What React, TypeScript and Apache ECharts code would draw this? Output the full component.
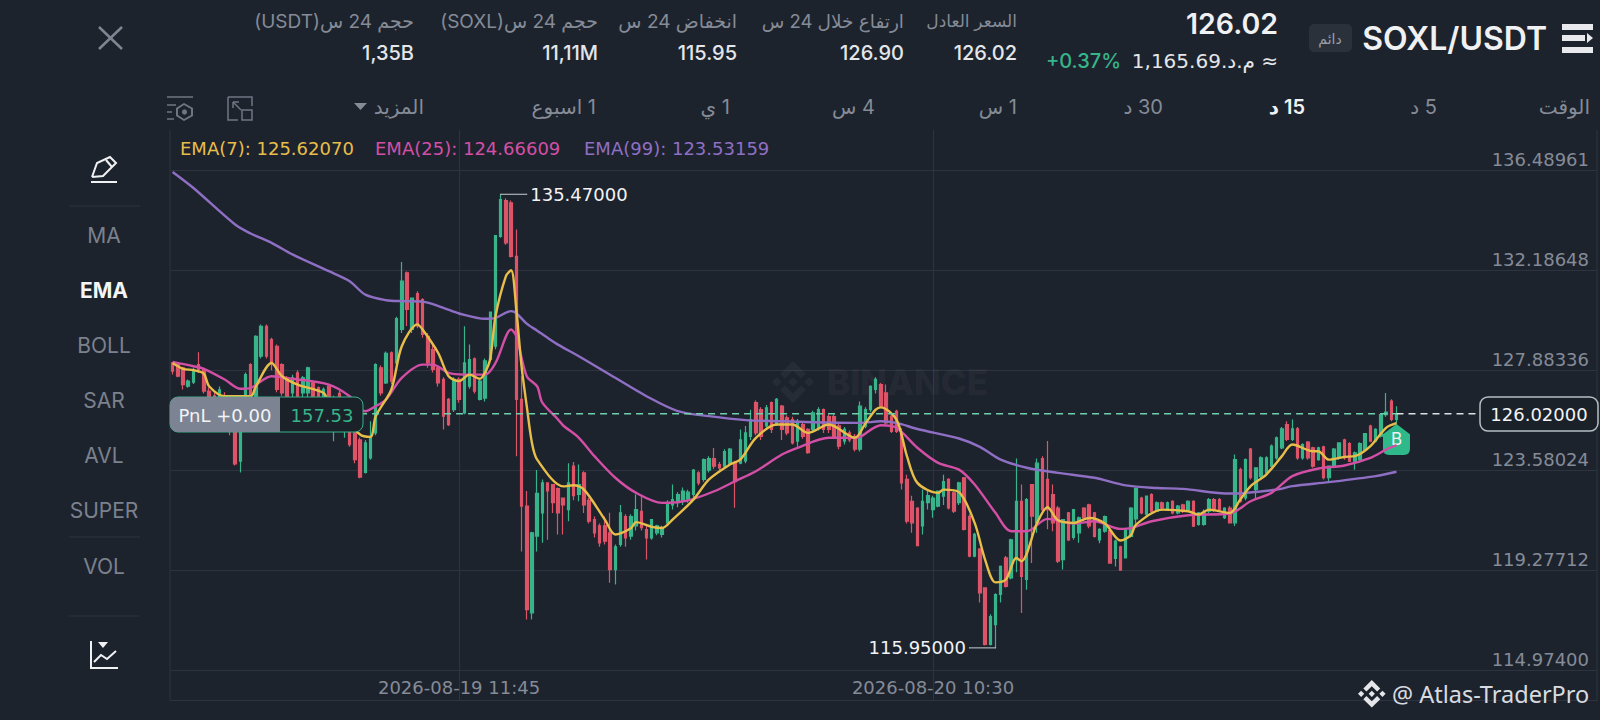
import React, { useEffect, useRef } from "react";
import * as echarts from "echarts";

// 15-minute candles, each row is [open, close, low, high]
const candlesA = [
[128.21,127.86,127.71,128.25],[128.14,127.64,127.6,128.2],[128.0,127.28,127.07,128.05],[127.21,127.43,127.14,127.5],[127.38,127.93,127.3,128.0],[128.14,127.93,127.78,128.67],[127.93,127.0,126.9,128.0],[127.0,126.55,126.4,127.15],[126.8,126.3,126.1,126.95],[126.2,127.05,126.0,127.2],
[126.8,126.0,125.8,126.95],[126.1,125.4,125.1,126.3],[125.7,123.87,123.8,125.9],[123.98,125.9,123.5,126.2],[125.9,127.71,125.7,127.8],[128.14,126.78,126.6,128.2],[126.78,129.36,126.5,129.4],[128.5,129.79,128.4,129.87],[129.79,128.5,128.4,129.87],[129.22,128.21,127.9,129.3],
[128.93,127.07,126.95,129.0],[128.14,126.92,126.8,128.2],[127.57,126.78,126.6,127.65],[126.92,127.57,126.7,127.7],[127.78,126.78,126.6,127.9],[126.92,127.57,126.7,127.65],[126.92,128.0,126.7,128.05],[127.35,126.78,126.6,127.45],[127.14,126.78,126.5,127.2],[126.64,127.07,126.4,127.15],
[127.21,126.35,126.2,127.3],[125.9,126.6,124.84,126.8],[126.9,126.0,125.7,127.0],[125.6,126.3,124.99,126.5],[125.8,124.7,124.6,126.2],[125.2,124.05,123.9,125.3],[124.9,123.3,123.25,125.0],[123.5,124.77,123.45,124.9],[124.13,124.99,124.05,125.7],[125.2,128.14,125.1,128.2],
];
const candlesB = [
[128.0,126.92,126.8,128.1],[127.35,128.62,127.3,128.7],[128.65,127.43,127.3,128.7],[128.21,130.12,128.1,130.2],[129.65,131.73,129.5,132.55],[132.09,130.51,129.8,132.15],[129.65,131.0,129.5,131.0],[131.2,129.8,129.7,131.3],[130.94,129.44,129.3,131.0],[129.36,128.21,128.0,129.5],
[128.79,127.93,127.8,129.0],[128.0,127.35,127.2,128.1],[127.5,125.92,125.35,127.6],[126.64,125.56,125.5,126.7],[126.2,127.5,126.1,127.6],[127.5,126.64,126.5,127.6],[126.06,128.21,126.0,129.79],[127.21,128.36,127.1,129.0],[128.39,127.0,126.9,128.45],[126.64,127.43,126.6,127.5],
[126.7,128.3,126.55,128.4],[128.36,130.4,128.3,130.4],[128.93,133.69,128.8,133.7],[133.66,135.24,133.6,135.47],[135.2,133.38,133.3,135.3],[135.1,132.8,132.75,135.2],[132.8,126.64,124.2,133.95],[126.64,122.05,120.1,127.64],[122.05,117.6,117.17,122.7],[117.46,120.9,117.17,120.95],
[120.76,122.6,120.1,123.6],[121.76,123.05,120.47,123.2],[123.05,122.7,120.6,123.05],[122.98,122.2,121.75,123.0],[122.8,121.76,120.83,122.85],[122.4,122.1,120.83,122.4],[121.9,123.05,121.4,123.9],[123.77,122.5,122.3,123.95],[122.55,122.98,122.26,123.84],[123.48,122.1,121.75,123.55],
];
const candlesC = [
[122.3,121.4,121.3,122.4],[121.47,120.9,120.7,121.6],[121.2,120.47,120.3,121.3],[121.2,120.54,120.4,121.6],[120.9,119.32,118.75,121.76],[119.32,120.3,118.68,120.4],[120.4,121.76,120.3,122.1],[121.6,120.68,120.3,121.7],[120.76,121.6,120.6,121.7],[121.2,121.9,121.0,122.55],
[121.83,121.12,121.0,122.5],[121.04,120.68,119.75,121.2],[120.68,121.47,120.6,121.5],[120.9,121.2,120.8,121.25],[120.83,121.12,120.7,121.2],[121.33,122.2,121.2,122.3],[122.1,122.33,121.9,122.98],[122.2,122.55,122.0,122.65],[122.3,122.7,122.1,122.85],[122.35,122.65,122.2,122.75],
[122.55,123.6,122.35,123.65],[123.48,123.05,122.95,123.55],[123.2,124.05,123.1,124.1],[123.6,124.1,123.5,124.2],[124.1,123.77,123.65,124.55],[123.84,123.7,123.6,123.95],[123.77,124.4,123.7,124.5],[123.9,124.5,123.8,124.55],[123.9,123.1,121.98,124.0],[123.9,124.9,123.85,125.35],
[124.0,125.2,123.9,125.5],[125.05,125.77,124.9,126.2],[126.5,125.2,125.1,126.6],[126.2,125.05,124.9,126.3],[125.5,126.28,125.4,126.4],[126.5,125.35,125.2,126.55],[125.6,126.64,125.5,126.7],[126.35,125.35,124.9,126.4],[125.85,125.2,125.1,125.95],[125.77,124.77,124.7,125.9],
];
const candlesD = [
[124.85,125.7,124.6,125.8],[125.56,125.05,124.95,125.65],[125.35,124.35,124.3,125.4],[125.35,126.06,125.2,126.15],[125.4,126.2,125.3,126.3],[126.2,125.35,125.2,126.25],[125.9,125.35,125.2,126.0],[125.9,125.05,124.95,126.0],[125.5,124.63,124.5,125.6],[124.85,125.35,124.7,125.45],
[125.2,124.9,124.8,125.3],[125.05,124.5,124.4,125.15],[124.5,126.35,124.4,126.55],[125.49,126.2,125.4,126.3],[126.2,127.2,126.1,127.25],[127.07,127.5,126.9,127.6],[127.28,126.35,126.3,127.35],[126.92,125.63,125.55,127.28],[125.92,125.27,125.2,126.0],[126.13,125.27,125.2,126.2],
[125.2,123.05,122.76,125.4],[123.2,121.4,121.3,123.4],[122.26,121.33,120.9,122.5],[121.97,120.35,120.35,122.0],[121.2,122.26,120.83,122.76],[122.2,122.5,121.9,122.7],[121.9,122.4,121.55,122.5],[122.05,122.7,122.0,122.7],[122.48,123.1,122.1,123.4],[123.2,121.97,121.9,123.25],
[122.62,121.83,121.75,122.7],[122.2,123.05,122.1,123.1],[123.27,121.05,121.0,123.3],[121.6,119.9,119.85,121.7],[119.9,120.83,119.85,120.9],[120.2,118.32,117.9,120.25],[118.53,116.1,116.05,118.55],[116.1,117.3,116.05,117.4],[116.95,118.24,115.95,118.3],[118.25,119.46,117.9,119.5],
];
const candlesE = [
[119.82,118.6,118.55,119.9],[118.96,120.6,118.9,120.65],[119.75,122.26,119.2,124.1],[122.26,119.03,117.45,122.98],[118.9,122.33,118.45,122.4],[122.98,121.62,119.6,123.0],[121.33,123.9,120.9,124.1],[124.1,121.9,121.8,124.2],[123.2,121.9,121.05,124.85],[122.55,121.33,120.97,122.98],
[121.97,119.68,119.6,122.05],[119.75,121.47,119.32,121.5],[121.76,120.6,120.55,121.8],[120.7,121.9,120.6,121.9],[120.9,121.55,120.47,121.6],[121.97,121.55,121.4,122.0],[122.1,121.2,121.1,122.15],[121.76,120.75,120.7,121.8],[120.6,121.05,120.45,121.1],[120.97,121.6,120.9,121.65],
[121.0,119.6,119.6,121.05],[119.8,120.55,119.45,120.6],[120.3,119.3,119.3,120.35],[119.82,121.05,119.8,121.1],[120.75,121.97,120.7,122.0],[121.5,122.8,121.3,122.85],[122.4,121.76,121.7,122.45],[121.7,122.48,121.6,122.5],[122.55,121.83,121.75,122.6],[121.83,122.19,121.8,122.25],
[122.19,121.97,121.85,122.25],[121.9,122.19,121.85,122.25],[122.26,121.76,121.7,122.3],[121.76,122.05,121.7,122.1],[122.1,121.83,121.75,122.15],[121.9,122.26,121.8,122.3],[122.26,121.19,121.15,122.3],[121.26,121.76,121.2,121.8],[121.26,121.76,121.2,121.9],[121.83,122.33,121.75,122.4],
];
const candlesF = [
[122.33,121.9,121.8,122.4],[122.33,121.9,121.85,122.4],[121.55,121.97,121.5,122.0],[121.97,121.33,121.3,122.05],[121.33,124.05,121.19,124.27],[123.62,122.26,122.2,123.7],[122.4,124.05,122.3,124.1],[124.5,123.27,123.2,124.55],[122.76,123.7,122.33,123.7],[123.33,124.13,123.25,124.2],
[123.48,124.13,123.4,124.2],[123.77,124.63,123.7,124.7],[124.13,124.99,124.05,125.05],[124.56,125.38,124.5,125.45],[125.56,124.92,124.85,125.7],[124.92,125.38,124.85,125.78],[125.38,124.13,124.05,125.45],[124.13,124.7,124.05,124.75],[124.8,124.13,124.05,124.85],[124.56,123.77,123.7,124.6],
[124.05,124.56,124.0,124.6],[124.6,123.27,123.2,124.65],[123.27,123.77,123.1,123.8],[123.77,124.5,123.7,124.55],[124.13,124.77,124.05,124.8],[124.9,124.13,124.05,124.95],[124.74,123.98,123.95,124.8],[123.98,124.34,123.62,124.4],[124.05,124.74,124.0,124.8],[124.48,125.17,124.4,125.2],
[125.49,124.85,124.8,125.55],[124.85,125.35,124.8,125.4],[125.06,125.99,125.0,126.02],[125.99,126.1,125.9,126.92],[126.57,125.78,125.7,126.65],[125.78,126.02,125.6,126.35],
];

// [candle index, value]
const ema7Points = [[0,128.21],[2,127.96],[4,127.9],[6,127.75],[7,127.21],[10,126.78],[15,126.78],[16,127.21],[19,128.21],[21,127.64],[24,127.28],[29,126.92],[30,126.49],[36,125.13],[38,125.03],[39,125.92],[42,127.07],[44,128.93],[47,129.87],[48,129.65],[51,128.64],[53,127.64],[55,127.43],[57,127.71],[59,127.53],[60,127.8],[61,128.4],[62,130.22],[64,131.95],[65,132.2],[66,130.5],[67,128.07],[68,126.35],[69,124.77],[70,124.05],[75,122.9],[77,122.95],[79,122.76],[83,121.47],[85,120.83],[88,121.1],[89,121.36],[92,121.16],[94,121.11],[96,121.47],[100,122.33],[103,123.2],[107,123.84],[109,124.05],[112,124.99],[116,125.56],[119,125.56],[122,125.2],[126,125.56],[131,124.99],[133,125.6],[135,126.2],[136,126.3],[139,125.77],[141,124.2],[143,123.05],[147,122.62],[148,122.76],[151,122.65],[154,121.33],[156,119.75],[158,118.77],[160,118.89],[162,119.82],[163,119.68],[166,121.33],[168,122.0],[170,121.44],[173,121.33],[176,121.54],[179,121.3],[182,120.57],[184,120.8],[185,121.26],[190,121.9],[195,121.83],[197,121.69],[199,121.9],[203,121.76],[205,122.33],[207,122.91],[210,123.41],[213,124.2],[215,124.7],[219,124.41],[220,124.41],[222,124.05],[225,124.17],[227,124.2],[230,124.63],[233,125.42],[235,125.62]];
const ema25Points = [[0,128.26],[4,128.07],[6,127.96],[10,127.5],[13,127.1],[15,127.14],[19,127.64],[23,127.53],[30,127.28],[34,126.78],[37,126.13],[39,126.35],[41,126.64],[44,127.57],[48,128.14],[50,128.14],[53,127.78],[56,127.71],[60,127.71],[62,128.21],[65,129.65],[66,129.36],[68,127.64],[70,127.2],[71,126.5],[74,125.78],[75,125.52],[78,124.99],[81,124.2],[85,123.27],[89,122.62],[94,122.19],[99,122.3],[104,122.69],[108,123.12],[112,123.55],[117,124.27],[120,124.56],[126,124.99],[131,124.99],[132,125.03],[136,125.53],[139,125.42],[143,124.56],[147,123.91],[151,123.62],[154,122.98],[158,121.76],[161,120.97],[164,120.97],[168,121.5],[173,121.3],[177,121.4],[182,121.07],[184,121.1],[188,121.4],[195,121.66],[203,121.73],[207,122.26],[211,122.62],[215,123.34],[220,123.67],[225,123.8],[230,124.13],[233,124.48],[235,124.67]];
const ema99Points = [[0,136.43],[4,135.74],[12,134.17],[15,133.78],[19,133.38],[23,132.88],[30,132.16],[34,131.73],[37,131.15],[41,130.91],[44,130.87],[48,130.85],[52,130.58],[55,130.34],[60,130.11],[62,130.15],[65,130.44],[66,130.35],[68,129.9],[70,129.6],[72,129.29],[74,129.0],[78,128.5],[85,127.57],[91,126.78],[97,126.14],[103,125.92],[110,125.75],[117,125.7],[123,125.66],[132,125.63],[136,125.7],[139,125.63],[143,125.37],[151,124.96],[155,124.6],[159,124.05],[164,123.7],[170,123.48],[177,123.27],[183,122.94],[189,122.83],[194,122.79],[203,122.59],[212,122.76],[215,122.91],[222,123.08],[231,123.34],[235,123.53]];

const yTicks = [114.974, 119.27712, 123.58024, 127.88336, 132.18648, 136.48961];
const lastPrice = 126.02;
const dayHigh = 135.47;
const dayLow = 115.95;
const highIndex = 63;
const lowIndex = 158;
const lastIndex = 235;
const slotCount = 274;
const firstSlot = Date.UTC(2026, 7, 18, 22, 0);
const timeLabels = [55, 146];

const pad = (n: number) => String(n).padStart(2, "0");
const categories = Array.from({ length: slotCount }, (_, i) => {
  const d = new Date(firstSlot + i * 900000);
  return `${d.getUTCFullYear()}-${pad(d.getUTCMonth() + 1)}-${pad(d.getUTCDate())} ${pad(d.getUTCHours())}:${pad(d.getUTCMinutes())}`;
});
const candles = [...candlesA, ...candlesB, ...candlesC, ...candlesD, ...candlesE, ...candlesF];

const statColumns = [
  { right: 1017, label: "السعر العادل", value: "126.02", size: 17 },
  { right: 904, label: "ارتفاع خلال 24 س", value: "126.90", size: 18.5 },
  { right: 737, label: "انخفاض 24 س", value: "115.95", size: 19 },
  { right: 598, label: "حجم 24 س(SOXL)", value: "11,11M", size: 19 },
  { right: 414, label: "حجم 24 س(USDT)", value: "1,35B", size: 19 },
];
const timeframes = [
  { right: 1590, text: "الوقت" },
  { right: 1437, text: "5 د" },
  { right: 1305, text: "15 د", active: true },
  { right: 1163, text: "30 د" },
  { right: 1017, text: "1 س" },
  { right: 875, text: "4 س" },
  { right: 730, text: "1 ي" },
  { right: 596, text: "1 اسبوع" },
  { right: 424, text: "المزيد" },
];
const indicators = [
  { y: 235, text: "MA" },
  { y: 290, text: "EMA", active: true },
  { y: 345, text: "BOLL" },
  { y: 400, text: "SAR" },
  { y: 455, text: "AVL" },
  { y: 510, text: "SUPER" },
  { y: 566, text: "VOL" },
];
const emaLegend = [
  { x: 180, text: "EMA(7): 125.62070", color: "#E8BE4A" },
  { x: 375, text: "EMA(25): 124.66609", color: "#D34FA6" },
  { x: 584, text: "EMA(99): 123.53159", color: "#8F6FC4" },
];

const BG = "#1D232D";
const GRID = "#2D343F";
const MUTED = "#858B97";
const GREEN = "#37B48A";
const RED = "#DD5468";
const LATIN = "Inter, 'DejaVu Sans', sans-serif";
const WIDE = "'DejaVu Sans', sans-serif";

const BINANCE_D =
  "M16.624 13.9202l2.7175 2.7154-7.353 7.353-7.353-7.352 2.7175-2.7164 4.6355 4.6595 4.6356-4.6595zm4.6366-4.6366L24 12l-2.7154 2.7164L18.5682 12l2.6924-2.7164zm-9.272.001l2.7163 2.6914-2.7164 2.7174v-.001L9.2721 12l2.7164-2.7154zm-9.2722-.001L5.4088 12l-2.6914 2.6924L0 12l2.7164-2.7164zM11.9885.0115l7.353 7.329-2.7174 2.7154-4.6356-4.6356-4.6355 4.6595-2.7174-2.7154 7.353-7.353z";
echarts.graphic.registerShape("binanceLogo", echarts.graphic.extendPath(BINANCE_D, {}) as any);

const rtl = (s: string) => "\u202B" + s + "\u202C";

const txt = (x: number, y: number, text: string, size: number, fill: string, align = "left", weight: any = 400, z = 100, family = LATIN) => ({
  type: "text",
  x,
  y,
  z,
  silent: true,
  style: { text, fill, align, verticalAlign: "middle", fontSize: size, fontWeight: weight, fontFamily: family },
});
const seg = (pts: number[][], stroke: string, lineWidth = 2) => ({
  type: "polyline",
  z: 100,
  silent: true,
  shape: { points: pts },
  style: { stroke, lineWidth, fill: "none" },
});
const poly = (pts: number[][], fill: string) => ({ type: "polygon", z: 100, silent: true, shape: { points: pts }, style: { fill } });
const box = (x: number, y: number, width: number, height: number, r: any, fill: string, stroke?: string, lineWidth = 1) => ({
  type: "rect",
  z: 100,
  silent: true,
  shape: { x, y, width, height, r },
  style: { fill, stroke, lineWidth },
});

function buildGraphics() {
  const g: any[] = [];
  // watermark
  g.push({ type: "binanceLogo", x: 772, y: 361, scaleX: 1.75, scaleY: 1.75, z: 1, silent: true, style: { fill: "rgba(255,255,255,0.045)" } });
  g.push(txt(827, 382, "BINANCE", 35, "rgba(255,255,255,0.045)", "left", 800, 1));
  // chart frame
  g.push(seg([[170, 130], [170, 700]], GRID, 1));
  g.push(seg([[1597, 130], [1597, 700]], GRID, 1));
  // header
  g.push(seg([[99, 27], [122, 49]], "#7F8693", 2.5), seg([[122, 27], [99, 49]], "#7F8693", 2.5));
  statColumns.forEach((c) => {
    g.push(txt(c.right, 21, rtl(c.label), c.size, MUTED, "right"));
    g.push(txt(c.right, 53, c.value, 20, "#E4E6EA", "right", 500));
  });
  g.push(txt(1278, 23, "126.02", 28.5, "#F0F1F3", "right", 600));
  g.push(txt(1278, 61, rtl("≈ م.د.1,165.69"), 20, "#E4E6EA", "right", 400, 100, WIDE));
  g.push(txt(1121, 61, "+0.37%", 20, GREEN, "right", 500));
  g.push(box(1309, 24, 43, 28, 5, "#2A313B"));
  g.push(txt(1330, 38, rtl("دائم"), 14, "#9AA0AA", "center"));
  g.push(txt(1547, 38, "SOXL/USDT", 32, "#F0F1F3", "right", 600));
  g.push(box(1562, 24, 31, 6, 0, "#E8E9EC"), box(1562, 35, 23, 6, 0, "#E8E9EC"), box(1562, 47, 31, 6, 0, "#E8E9EC"));
  g.push(poly([[1587, 33], [1593, 38], [1587, 43]], "#E8E9EC"));
  // timeframes
  timeframes.forEach((t) => {
    g.push(txt(t.right, 107, rtl(t.text), 20, t.active ? "#F0F1F3" : MUTED, "right", t.active ? 600 : 400));
  });
  g.push(poly([[354, 103], [367, 103], [360.5, 110]], MUTED));
  const iconC = "#6F7682";
  g.push(seg([[228, 97], [252, 97], [252, 106]], iconC, 1.5), seg([[228, 97], [228, 120], [238, 120]], iconC, 1.5));
  g.push(box(242, 110, 10, 10, 0, "none", iconC, 1.5), seg([[233, 102], [241, 110]], iconC, 1.5), seg([[233, 102], [233, 108]], iconC, 1.5), seg([[233, 102], [239, 102]], iconC, 1.5));
  g.push(seg([[167, 97], [193, 97]], iconC, 1.5), seg([[167, 105], [176, 105]], iconC, 1.5), seg([[167, 112], [172, 112]], iconC, 1.5), seg([[167, 119], [174, 119]], iconC, 1.5));
  g.push(poly([[184, 103], [193, 108], [193, 116], [184, 121], [176, 116], [176, 108]], iconC));
  g.push(poly([[184, 105], [191, 109], [191, 115], [184, 119], [178, 115], [178, 109]], BG));
  g.push({ type: "circle", z: 100, silent: true, shape: { cx: 184.5, cy: 112, r: 2.6 }, style: { fill: iconC } });
  // side panel
  g.push(seg([[92, 177], [97, 163], [110, 157], [116, 163], [103, 176], [92, 177]], "#F0F1F3", 2), seg([[106, 160], [112, 167]], "#F0F1F3", 2));
  g.push(seg([[91, 182], [117, 182]], "#F0F1F3", 2));
  [206, 537, 616].forEach((y) => g.push(seg([[69, y], [140, y]], GRID, 1)));
  indicators.forEach((b) => g.push(txt(104, b.y, b.text, 21, b.active ? "#F4F5F6" : "#7B818D", "center", b.active ? 700 : 400)));
  g.push(seg([[91, 641], [91, 668], [118, 668]], "#F0F1F3", 2));
  g.push(seg([[94, 662], [101, 655], [107, 659], [116, 651]], "#F0F1F3", 2));
  g.push(poly([[98, 642], [108, 642], [103, 648]], "#F0F1F3"));
  // legend
  emaLegend.forEach((l) => g.push(txt(l.x, 148, l.text, 18, l.color, "left", 400, 100, WIDE)));
  // PnL badge
  g.push(box(170, 397, 193, 35, 8, "#1B2128", GREEN, 1));
  g.push(box(170, 397, 110, 35, [8, 0, 0, 8], "#7C8494"));
  g.push(txt(225, 415, "PnL +0.00", 18, "#F2F3F5", "center", 400, 100, WIDE));
  g.push(txt(322, 415, "157.53", 18, GREEN, "center", 400, 100, WIDE));
  // last price badge
  g.push(box(1480, 397, 118, 34, 8, "#1B2128", "#B4C0C3", 1.5));
  g.push(txt(1539, 414, "126.02000", 18, "#F2F3F5", "center", 400, 100, WIDE));
  // attribution
  g.push({ type: "binanceLogo", x: 1358, y: 680, scaleX: 1.15, scaleY: 1.15, z: 100, silent: true, style: { fill: "#E4E6EA" } });
  g.push(txt(1392, 694, "@ Atlas-TraderPro", 23.5, "#D8DBE0", "left", 400, 100, "'Noto Sans', sans-serif"));
  return g;
}

const extremeLine = (name: string, from: number, to: number, value: number) => ({
  name,
  type: "line",
  silent: true,
  z: 4,
  symbol: "circle",
  symbolSize: 1,
  showSymbol: true,
  showAllSymbol: true,
  lineStyle: { color: "#C9CDD3", width: 1 },
  itemStyle: { color: "#C9CDD3" },
  data: [
    [from, value],
    {
      value: [to, value],
      label: {
        show: true,
        position: to > from ? "right" : "left",
        distance: 3,
        formatter: value.toFixed(5),
        color: "#F2F3F5",
        fontSize: 18,
        fontFamily: WIDE,
      },
    },
  ],
});

const emaLine = (name: string, data: number[][], color: string) => ({
  name,
  type: "line",
  data,
  smooth: 0.3,
  showSymbol: false,
  silent: true,
  z: 3,
  lineStyle: { color, width: 2.4 },
});

export default function App() {
  const ref = useRef<HTMLDivElement>(null);
  useEffect(() => {
    if (!ref.current) return;
    document.body.style.margin = "0";
    document.body.style.background = BG;
    const chart = echarts.init(ref.current, undefined, { renderer: "svg" });
    chart.setOption({
      animation: false,
      backgroundColor: BG,
      grid: { left: 170, top: 130, width: 1427, bottom: 20, containLabel: false },
      xAxis: {
        type: "category",
        data: categories,
        boundaryGap: true,
        axisLine: { show: true, onZero: false, lineStyle: { color: GRID, width: 1 } },
        axisTick: { show: false },
        axisLabel: {
          inside: true,
          margin: 4,
          color: MUTED,
          fontSize: 18,
          fontFamily: WIDE,
          hideOverlap: false,
          interval: (i: number) => timeLabels.includes(i),
        },
        splitLine: {
          show: true,
          alignWithLabel: true,
          interval: (i: number) => timeLabels.includes(i),
          lineStyle: { color: GRID, width: 1 },
        },
      },
      yAxis: {
        type: "value",
        position: "right",
        min: 113.707,
        max: 138.235,
        axisLine: { show: false },
        axisTick: { show: false, customValues: yTicks },
        axisLabel: {
          inside: true,
          margin: 8,
          verticalAlign: "bottom",
          padding: [0, 0, 2, 0],
          color: MUTED,
          fontSize: 18,
          fontFamily: WIDE,
          customValues: yTicks,
          formatter: (v: number) => v.toFixed(5),
        },
        splitLine: { show: true, lineStyle: { color: GRID, width: 1 } },
      },
      graphic: { elements: buildGraphics() },
      series: [
        {
          name: "SOXL/USDT",
          type: "candlestick",
          data: candles,
          barWidth: 3,
          silent: true,
          z: 2,
          itemStyle: { color: GREEN, color0: RED, borderColor: GREEN, borderColor0: RED, borderWidth: 1.2 },
          markPoint: {
            silent: true,
            z: 2,
            data: [
              {
                coord: [lastIndex, 124.92],
                symbol: "path://M13 0 L26 10 V24 Q26 30 20 30 H6 Q0 30 0 24 V10 Z",
                symbolSize: [27, 31],
                itemStyle: { color: "#2FB98A" },
                label: { show: true, formatter: "B", color: "#F2F3F5", fontSize: 17, fontFamily: LATIN, position: "inside" },
              },
            ],
          },
        },
        emaLine("EMA(99)", ema99Points, "#8F6FC4"),
        emaLine("EMA(25)", ema25Points, "#D34FA6"),
        emaLine("EMA(7)", ema7Points, "#E8BE4A"),
        extremeLine("High", highIndex, 68, dayHigh),
        extremeLine("Low", lowIndex, 153, dayLow),
        {
          name: "Last price",
          type: "line",
          silent: true,
          showSymbol: false,
          z: 3,
          data: [[36, lastPrice], [lastIndex, lastPrice]],
          lineStyle: { color: "#6FCFAC", width: 1.5, type: [7, 5] },
        },
        {
          name: "Last price extension",
          type: "line",
          silent: true,
          showSymbol: false,
          z: 3,
          data: [[lastIndex, lastPrice], [251, lastPrice]],
          lineStyle: { color: "#DDE1E4", width: 1.5, type: [7, 5] },
        },
      ],
    });
    return () => chart.dispose();
  }, []);
  return <div ref={ref} style={{ position: "fixed", left: 0, top: 0, width: 1600, height: 720 }} />;
}
